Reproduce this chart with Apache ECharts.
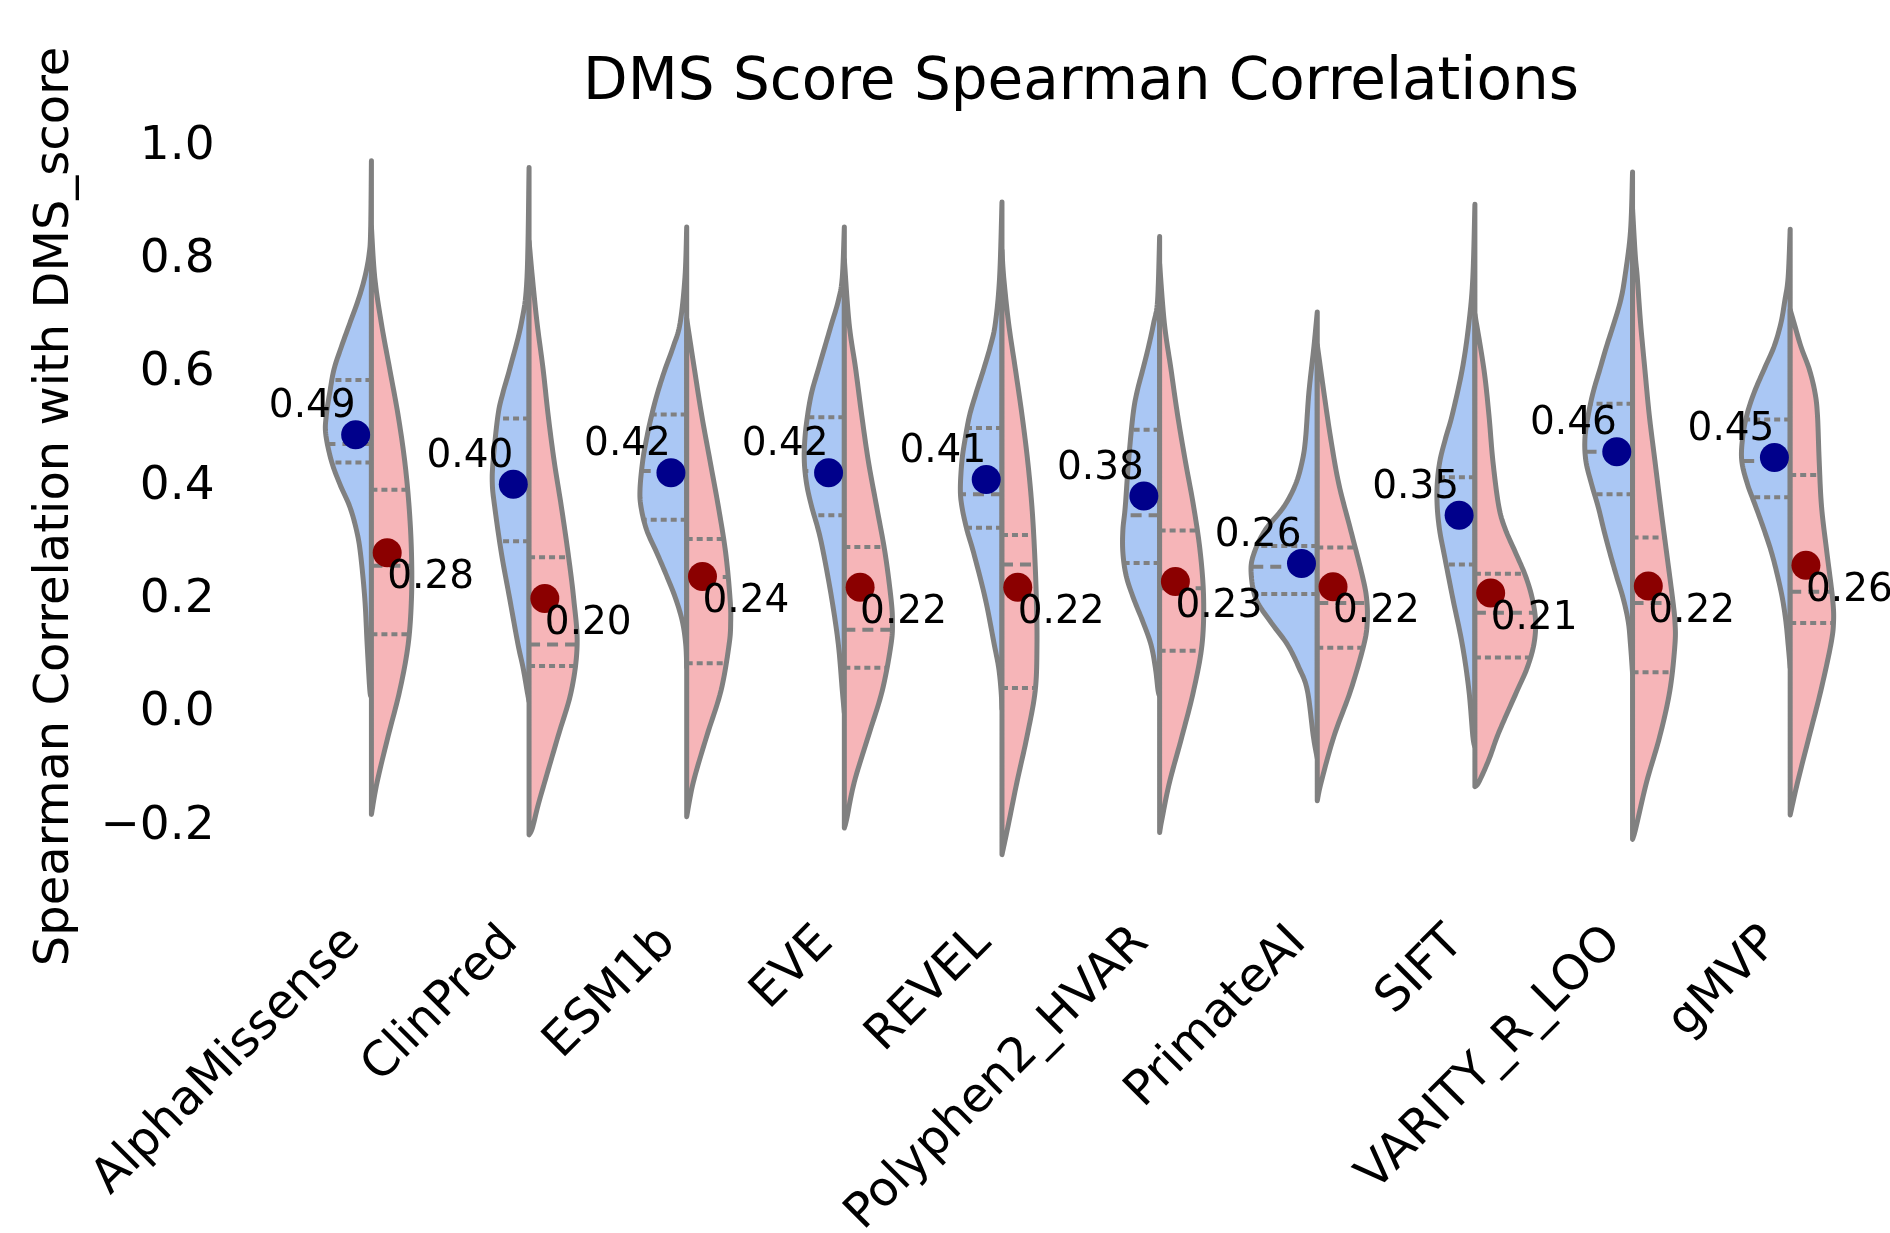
<!DOCTYPE html>
<html>
<head>
<meta charset="utf-8">
<script src="https://cdn.jsdelivr.net/npm/echarts@6/dist/echarts.min.js"></script>
<style>
html,body{margin:0;padding:0;background:#fff;}
#chart{width:1890px;height:1233px;}
</style>
</head>
<body>
<div id="chart"></div>
<script>
// ---------- data ----------
const models = ['AlphaMissense','ClinPred','ESM1b','EVE','REVEL','Polyphen2_HVAR','PrimateAI','SIFT','VARITY_R_LOO','gMVP'];
const yTicks = [-0.2, 0.0, 0.2, 0.4, 0.6, 0.8, 1.0];

// means of the two groups (blue = left half, red = right half)
const meanBlue = [0.491, 0.404, 0.424, 0.424, 0.412, 0.383, 0.264, 0.349, 0.461, 0.451];
const meanRed  = [0.283, 0.202, 0.241, 0.222, 0.222, 0.232, 0.223, 0.212, 0.224, 0.261];

// quartiles
const blueQ3  = [0.588, 0.520, 0.527, 0.522, 0.503, 0.500, 0.295, 0.416, 0.546, 0.518];
const blueMed = [0.475, 0.400, 0.427, 0.427, 0.386, 0.349, 0.258, 0.357, 0.461, 0.445];
const blueQ1  = [0.442, 0.303, 0.341, 0.349, 0.327, 0.265, 0.210, 0.262, 0.386, 0.381];
const redQ3   = [0.394, 0.275, 0.307, 0.293, 0.314, 0.322, 0.292, 0.246, 0.310, 0.420];
const redMed  = [0.260, 0.121, 0.240, 0.147, 0.262, 0.220, 0.194, 0.177, 0.194, 0.214];
const redQ1   = [0.139, 0.083, 0.088, 0.080, 0.044, 0.110, 0.115, 0.098, 0.072, 0.159];

// density outlines: [value, half-width in category units], top to bottom
const blueShape = [
  [[0.975,0],[0.85,0.005],[0.809,0.015],[0.769,0.042],[0.728,0.085],[0.688,0.137],[0.647,0.19],[0.607,0.237],[0.566,0.264],[0.526,0.286],[0.493,0.29],[0.445,0.254],[0.404,0.2],[0.364,0.137],[0.323,0.095],[0.283,0.07],[0.202,0.042],[0.121,0.027],[0.04,0.01],[0.03,0]],
  [[0.963,0],[0.769,0.013],[0.688,0.049],[0.607,0.123],[0.566,0.165],[0.526,0.197],[0.445,0.228],[0.404,0.233],[0.364,0.218],[0.283,0.176],[0.202,0.123],[0.121,0.07],[0.08,0.038],[0.04,0.013],[0.02,0]],
  [[0.858,0],[0.769,0.011],[0.688,0.042],[0.647,0.085],[0.607,0.137],[0.566,0.184],[0.526,0.222],[0.485,0.254],[0.445,0.279],[0.396,0.296],[0.364,0.29],[0.323,0.254],[0.283,0.19],[0.242,0.127],[0.202,0.07],[0.161,0.027],[0.121,0.006],[0.08,0]],
  [[0.858,0],[0.769,0.013],[0.728,0.038],[0.688,0.08],[0.647,0.123],[0.607,0.165],[0.566,0.207],[0.526,0.233],[0.485,0.25],[0.445,0.254],[0.404,0.239],[0.364,0.207],[0.323,0.165],[0.283,0.133],[0.202,0.08],[0.121,0.038],[0.04,0.013],[0.0,0]],
  [[0.902,0],[0.769,0.015],[0.688,0.042],[0.647,0.074],[0.607,0.116],[0.566,0.163],[0.526,0.205],[0.485,0.233],[0.445,0.254],[0.396,0.264],[0.364,0.254],[0.323,0.222],[0.283,0.18],[0.202,0.106],[0.121,0.049],[0.08,0.021],[0.04,0.006],[0.007,0]],
  [[0.841,0],[0.728,0.013],[0.688,0.038],[0.647,0.07],[0.607,0.106],[0.566,0.144],[0.526,0.169],[0.445,0.197],[0.364,0.218],[0.323,0.233],[0.283,0.233],[0.242,0.212],[0.202,0.165],[0.161,0.106],[0.121,0.055],[0.08,0.027],[0.04,0.01],[0.03,0]],
  [[0.708,0],[0.647,0.021],[0.566,0.053],[0.485,0.074],[0.445,0.095],[0.404,0.137],[0.364,0.212],[0.323,0.33],[0.283,0.4],[0.25,0.42],[0.202,0.39],[0.161,0.296],[0.121,0.19],[0.08,0.116],[0.04,0.063],[-0.041,0.025],[-0.08,0]],
  [[0.898,0],[0.769,0.013],[0.688,0.038],[0.607,0.08],[0.526,0.144],[0.485,0.186],[0.445,0.222],[0.404,0.239],[0.364,0.239],[0.323,0.224],[0.283,0.197],[0.202,0.14],[0.121,0.08],[0.04,0.038],[-0.041,0.013],[-0.06,0]],
  [[0.955,0],[0.85,0.013],[0.769,0.049],[0.728,0.076],[0.688,0.118],[0.647,0.165],[0.607,0.207],[0.566,0.25],[0.526,0.281],[0.485,0.302],[0.445,0.296],[0.404,0.26],[0.364,0.218],[0.323,0.182],[0.283,0.144],[0.242,0.102],[0.202,0.059],[0.161,0.027],[0.121,0.013],[0.07,0]],
  [[0.854,0],[0.769,0.013],[0.728,0.034],[0.688,0.059],[0.647,0.102],[0.607,0.165],[0.566,0.228],[0.526,0.275],[0.485,0.302],[0.445,0.307],[0.404,0.271],[0.364,0.218],[0.323,0.165],[0.283,0.118],[0.242,0.08],[0.202,0.049],[0.161,0.027],[0.121,0.013],[0.08,0]]
];
const redShape = [
  [[0.858,0],[0.769,0.021],[0.688,0.063],[0.607,0.116],[0.526,0.169],[0.445,0.211],[0.364,0.239],[0.283,0.254],[0.202,0.254],[0.121,0.233],[0.04,0.18],[-0.041,0.106],[-0.122,0.036],[-0.179,0]],
  [[0.833,0],[0.769,0.021],[0.688,0.051],[0.607,0.089],[0.526,0.121],[0.445,0.159],[0.364,0.205],[0.283,0.247],[0.202,0.283],[0.121,0.305],[0.04,0.269],[-0.041,0.184],[-0.122,0.099],[-0.163,0.057],[-0.203,0.021],[-0.215,0]],
  [[0.696,0],[0.607,0.049],[0.526,0.095],[0.445,0.148],[0.364,0.201],[0.283,0.247],[0.202,0.275],[0.161,0.279],[0.121,0.269],[0.04,0.218],[-0.041,0.127],[-0.122,0.042],[-0.183,0]],
  [[0.80,0],[0.688,0.03],[0.607,0.072],[0.526,0.11],[0.445,0.152],[0.364,0.205],[0.283,0.258],[0.202,0.296],[0.161,0.305],[0.121,0.296],[0.04,0.241],[-0.041,0.152],[-0.122,0.063],[-0.187,0.015],[-0.203,0]],
  [[0.817,0],[0.769,0.011],[0.688,0.042],[0.607,0.085],[0.526,0.127],[0.445,0.163],[0.364,0.19],[0.283,0.207],[0.202,0.218],[0.121,0.222],[0.04,0.211],[-0.041,0.159],[-0.122,0.095],[-0.203,0.036],[-0.25,0]],
  [[0.793,0],[0.688,0.03],[0.607,0.072],[0.526,0.114],[0.445,0.163],[0.364,0.216],[0.283,0.258],[0.202,0.279],[0.121,0.269],[0.04,0.216],[-0.041,0.142],[-0.122,0.063],[-0.187,0.015],[-0.211,0]],
  [[0.65,0],[0.566,0.042],[0.485,0.085],[0.404,0.137],[0.323,0.212],[0.242,0.286],[0.202,0.313],[0.161,0.317],[0.121,0.296],[0.04,0.212],[-0.041,0.106],[-0.122,0.025],[-0.155,0]],
  [[0.704,0],[0.607,0.057],[0.526,0.089],[0.445,0.114],[0.364,0.152],[0.323,0.195],[0.283,0.258],[0.242,0.321],[0.202,0.364],[0.161,0.385],[0.121,0.374],[0.08,0.332],[0.04,0.269],[0.0,0.205],[-0.041,0.142],[-0.082,0.089],[-0.122,0.025],[-0.13,0]],
  [[0.89,0],[0.809,0.017],[0.769,0.03],[0.688,0.051],[0.607,0.078],[0.526,0.106],[0.445,0.142],[0.364,0.178],[0.283,0.216],[0.202,0.254],[0.161,0.269],[0.121,0.269],[0.04,0.237],[-0.041,0.173],[-0.122,0.089],[-0.203,0.021],[-0.223,0]],
  [[0.712,0],[0.688,0.025],[0.647,0.068],[0.607,0.121],[0.566,0.157],[0.526,0.173],[0.445,0.184],[0.364,0.199],[0.283,0.233],[0.202,0.269],[0.161,0.275],[0.121,0.258],[0.04,0.195],[-0.041,0.121],[-0.122,0.047],[-0.18,0]]
];

// ---------- styles ----------
const FONT = '"DejaVu Sans", "Liberation Sans", sans-serif';
const BLUE_FILL = '#aac7f4', RED_FILL = '#f6b5b8';
const LINE = '#808080';
const BLUE_DOT = '#00008b', RED_DOT = '#8b0000';
const DOT_OFFSET = 0.1; // category units

// ---------- helpers (drawing only) ----------
function smoothPts(pts, n) {
  const out = [];
  for (let i = 0; i < pts.length - 1; i++) {
    const p0 = pts[Math.max(i - 1, 0)], p1 = pts[i], p2 = pts[i + 1], p3 = pts[Math.min(i + 2, pts.length - 1)];
    for (let t = 0; t < n; t++) {
      const s = t / n, s2 = s * s, s3 = s2 * s;
      const f = (a, b, c, d) => 0.5 * ((2 * b) + (-a + c) * s + (2 * a - 5 * b + 4 * c - d) * s2 + (-a + 3 * b - 3 * c + d) * s3);
      out.push([f(p0[0], p1[0], p2[0], p3[0]), f(p0[1], p1[1], p2[1], p3[1])]);
    }
  }
  out.push(pts[pts.length - 1].slice());
  return out;
}
function edgeAt(pts, y, cx) {
  for (let i = 0; i < pts.length - 1; i++) {
    const a = pts[i], b = pts[i + 1];
    if ((a[1] <= y && b[1] >= y) || (a[1] >= y && b[1] <= y)) {
      const t = b[1] === a[1] ? 0 : (y - a[1]) / (b[1] - a[1]);
      return Math.abs(a[0] + t * (b[0] - a[0]) - cx);
    }
  }
  return 0;
}

function renderViolin(params, api) {
  const i = api.value(0), side = api.value(1);
  const prof = side === 0 ? blueShape[i] : redShape[i];
  const sgn = side === 0 ? -1 : 1;
  const band = api.size([1, 0])[0];
  const cx = api.coord([i, 0])[0];
  const raw = prof.map(p => [cx + sgn * p[1] * band, api.coord([i, p[0]])[1]]);
  const pts = smoothPts(raw, 10).map(p => [side === 0 ? Math.min(p[0], cx) : Math.max(p[0], cx), p[1]]);
  const children = [{
    type: 'polygon',
    shape: { points: pts },
    style: { fill: side === 0 ? BLUE_FILL : RED_FILL, stroke: LINE, lineWidth: 5, lineJoin: 'round' }
  }];
  const qs = side === 0 ? [blueQ1[i], blueMed[i], blueQ3[i]] : [redQ1[i], redMed[i], redQ3[i]];
  qs.forEach((q, k) => {
    const y = api.coord([i, q])[1];
    const w = edgeAt(pts, y, cx);
    children.push({
      type: 'line',
      shape: { x1: cx, y1: y, x2: cx + sgn * w, y2: y },
      style: { stroke: LINE, lineWidth: 4, lineDash: k === 1 ? [11, 7] : [6, 4] }
    });
  });
  return { type: 'group', children };
}

function renderMean(params, api) {
  const i = api.value(0), m = api.value(1), side = api.value(2);
  const band = api.size([1, 0])[0];
  const c = api.coord([i, m]);
  const sgn = side === 0 ? -1 : 1;
  const x = c[0] + sgn * DOT_OFFSET * band, y = c[1];
  return {
    type: 'group',
    children: [
      { type: 'circle', shape: { cx: x, cy: y, r: 14.5 }, style: { fill: side === 0 ? BLUE_DOT : RED_DOT } },
      {
        type: 'text',
        style: {
          text: m.toFixed(2), x: x, y: side === 0 ? y - 8 : y + 6,
          align: side === 0 ? 'right' : 'left',
          verticalAlign: side === 0 ? 'bottom' : 'top',
          fill: '#000', fontSize: 39, fontFamily: FONT
        }
      }
    ]
  };
}

const violinData = [];
models.forEach((m, i) => { violinData.push([i, 0]); violinData.push([i, 1]); });
const meanData = [];
models.forEach((m, i) => { meanData.push([i, meanBlue[i], 0]); meanData.push([i, meanRed[i], 1]); });

const chart = echarts.init(document.getElementById('chart'), null, { renderer: 'canvas' });
chart.setOption({
  backgroundColor: '#fff',
  animation: false,
  title: {
    text: 'DMS Score Spearman Correlations',
    left: 1076, top: 50, textAlign: 'center',
    textStyle: { fontSize: 58, fontWeight: 'normal', fontFamily: FONT, color: '#000' }
  },
  grid: { left: 292.6, right: 21, top: 33.2, bottom: 293.4, containLabel: false, outerBoundsMode: 'none' },
  xAxis: {
    type: 'category',
    data: models,
    axisLine: { show: false }, axisTick: { show: false }, splitLine: { show: false },
    axisLabel: {
      interval: 0, rotate: 45, fontSize: 48, fontFamily: FONT, color: '#000',
      align: 'right', verticalAlign: 'bottom', margin: 14, padding: [0, 0, 2, 0]
    }
  },
  yAxis: {
    type: 'value', min: -0.4, max: 1.2, interval: 0.2,
    axisLine: { show: false }, axisTick: { show: false }, splitLine: { show: false },
    axisLabel: {
      showMinLabel: false, showMaxLabel: false,
      fontSize: 47, fontFamily: FONT, color: '#000', margin: 78, padding: [20, 0, 0, 0],
      formatter: v => {
        const r = Math.round(v * 10) / 10;
        if (!yTicks.some(t => Math.abs(t - r) < 1e-9)) return '';
        return (r < 0 ? '\u2212' : '') + Math.abs(r).toFixed(1);
      }
    },
    name: 'Spearman Correlation with DMS_score',
    nameLocation: 'middle', nameGap: 213,
    nameTextStyle: { fontSize: 48, fontFamily: FONT, color: '#000', padding: [0, 40, 0, 0] }
  },
  series: [
    { type: 'custom', renderItem: renderViolin, data: violinData, encode: { x: 0, y: 1 }, clip: false, silent: true, z: 2 },
    { type: 'custom', renderItem: renderMean, data: meanData, encode: { x: 0, y: 1 }, clip: false, silent: true, z: 3 }
  ]
});
</script>
</body>
</html>
